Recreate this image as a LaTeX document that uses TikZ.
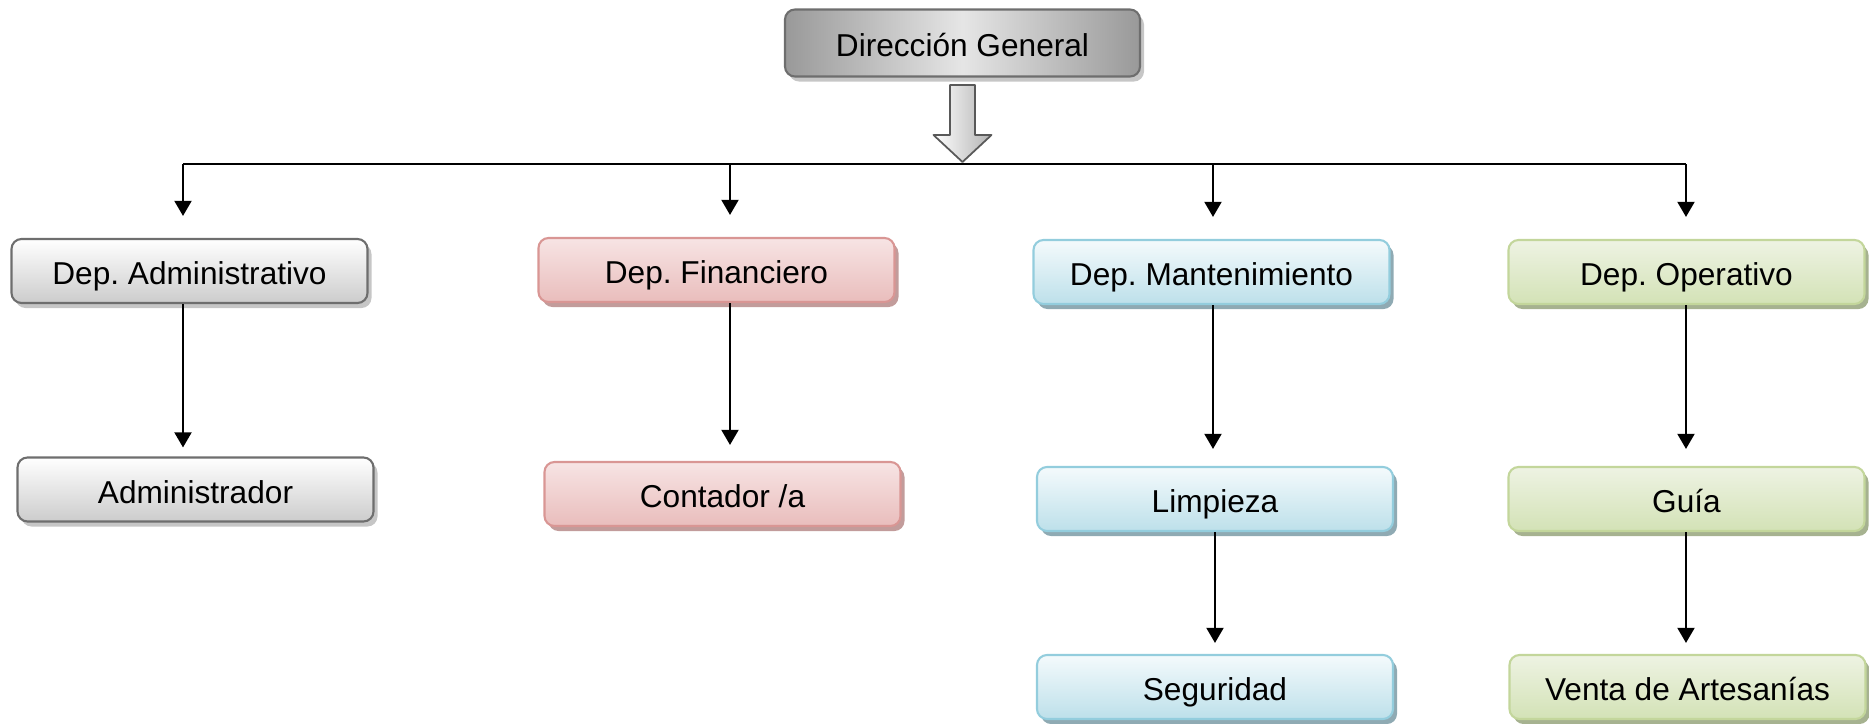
\documentclass[tikz,border=0pt]{standalone}
\usepackage{fontspec}
\setmainfont{Liberation Sans}
\frenchspacing
\usetikzlibrary{arrows.meta, shadows}

\definecolor{grayline}{HTML}{6E6E6E}
\definecolor{redline}{HTML}{D99694}
\definecolor{redtop}{HTML}{F7E4E4}
\definecolor{redbot}{HTML}{E9BDBC}
\definecolor{redshadow}{HTML}{C29C9B}
\definecolor{blueline}{HTML}{93CDDD}
\definecolor{bluetop}{HTML}{F4FAFC}
\definecolor{bluebot}{HTML}{BDE0EA}
\definecolor{blueshadow}{HTML}{8FAAB3}
\definecolor{greenline}{HTML}{C3D69B}
\definecolor{greentop}{HTML}{EEF3E3}
\definecolor{greenbot}{HTML}{D3E2B6}
\definecolor{greenshadow}{HTML}{A6B290}

\tikzset{
    box/.style={draw, rounded corners=1mm, line width=0.6pt,
        minimum width=3.56cm, minimum height=0.64cm, inner sep=0pt,
        text height=9.3pt, text depth=1.5pt,
        font=\fontsize{9}{11}\selectfont},
    boxshadow/.style={drop shadow={shadow xshift=0.04cm, shadow yshift=-0.05cm,
        fill=#1, opacity=1}},
    graybox/.style={box, draw=grayline, top color=white, bottom color=gray!40,
        boxshadow=gray!45},
    redbox/.style={box, draw=redline, top color=redtop, bottom color=redbot,
        boxshadow=redshadow},
    bluebox/.style={box, draw=blueline, top color=bluetop, bottom color=bluebot,
        boxshadow=blueshadow},
    greenbox/.style={box, draw=greenline, top color=greentop, bottom color=greenbot,
        boxshadow=greenshadow},
    arr/.style={-{Triangle[length=4.3pt, width=4.8pt]}, line width=0.7pt}
}

\begin{document}
\begin{tikzpicture}[line join=round]
    \useasboundingbox (0,0) rectangle (18.69,-7.24);

    % --- COORDINATES ---
    % x of the four columns, y of the bar
    \coordinate (c1) at (1.83, 0);
    \coordinate (c2) at (7.30, 0);
    \coordinate (c3) at (12.13, 0);
    \coordinate (c4) at (16.86, 0);
    \coordinate (bar) at (0, -1.64);

    % --- NODES ---
    \node[box, draw=grayline, left color=gray!80, right color=gray!80, middle color=gray!20,
          minimum width=3.55cm, minimum height=0.67cm, boxshadow=gray!45]
          (dg) at (9.625, -0.43) {Dirección General};

    \node[graybox]  (adm)   at (1.895, -2.71)  {Dep. Administrativo};
    \node[redbox]   (fin)   at (7.165, -2.70)  {Dep. Financiero};
    \node[bluebox]  (man)   at (12.115, -2.72) {Dep. Mantenimiento};
    \node[greenbox] (ope)   at (16.865, -2.72) {Dep. Operativo};

    \node[graybox]  (admr)  at (1.955, -4.895) {Administrador};
    \node[redbox]   (cont)  at (7.225, -4.94)  {Contador /a};
    \node[bluebox]  (limp)  at (12.15, -4.99)  {Limpieza};
    \node[greenbox] (guia)  at (16.865, -4.99) {Guía};

    \node[bluebox]  (seg)   at (12.15, -6.87)  {Seguridad};
    \node[greenbox] (venta) at (16.875, -6.87) {Venta de Artesanías};

    % --- DRAWING ---
    % Block arrow under the top box
    \begin{scope}[shift={(9.625, 0)}]
        \draw[draw=gray!70!black, line width=0.5pt, left color=white, right color=gray!60]
            (-0.125,-0.85) -- (0.125,-0.85) -- (0.125,-1.35) -- (0.29,-1.35)
            -- (0,-1.62) -- (-0.29,-1.35) -- (-0.125,-1.35) -- cycle;
    \end{scope}

    % Horizontal bar and the drops to each department
    \draw[line width=0.7pt] (c1 |- bar) -- (c4 |- bar);
    \draw[arr, shorten >=0.22cm] (c1 |- bar) -- (c1 |- adm.north);
    \draw[arr, shorten >=0.22cm] (c2 |- bar) -- (c2 |- fin.north);
    \draw[arr, shorten >=0.22cm] (c3 |- bar) -- (c3 |- man.north);
    \draw[arr, shorten >=0.22cm] (c4 |- bar) -- (c4 |- ope.north);

    % Department to staff
    \draw[arr, shorten >=0.09cm] (c1 |- adm.south) -- (c1 |- admr.north);
    \draw[arr, shorten >=0.16cm] (c2 |- fin.south) -- (c2 |- cont.north);
    \draw[arr, shorten >=0.17cm] (c3 |- man.south) -- (c3 |- limp.north);
    \draw[arr, shorten >=0.17cm] (c4 |- ope.south) -- (c4 |- guia.north);
    \draw[arr, shorten >=0.11cm] (limp.south) -- (seg.north);
    \draw[arr, shorten >=0.11cm] (c4 |- guia.south) -- (c4 |- venta.north);

\end{tikzpicture}
\end{document}
